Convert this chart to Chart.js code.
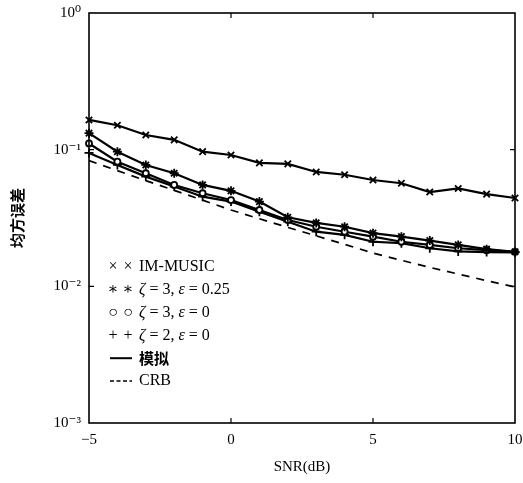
<!DOCTYPE html>
<html>
<head>
<meta charset="utf-8">
<script src="https://cdn.jsdelivr.net/npm/chart.js@4/dist/chart.umd.min.js"></script>
<style>
  html, body { margin: 0; padding: 0; background: #fff; }
  canvas { display: block; }
</style>
</head>
<body>
<canvas id="c" width="523" height="483"></canvas>
<script>
// SNR sweep (dB)
const snr = [-5, -4, -3, -2, -1, 0, 1, 2, 3, 4, 5, 6, 7, 8, 9, 10];

// Mean squared error per method
const imMusic    = [0.165, 0.151, 0.128, 0.118, 0.0967, 0.0914, 0.080, 0.0787, 0.0687, 0.0655, 0.060, 0.0568, 0.049, 0.052, 0.0473, 0.0443];
const zeta3eps25 = [0.132, 0.0966, 0.0773, 0.0672, 0.0552, 0.050, 0.0417, 0.0320, 0.0291, 0.0273, 0.0245, 0.0231, 0.0216, 0.0201, 0.0187, 0.0179];
const zeta3eps0  = [0.111, 0.0817, 0.0672, 0.0552, 0.048, 0.0428, 0.0362, 0.0306, 0.0273, 0.0251, 0.0231, 0.0212, 0.0201, 0.019, 0.0184, 0.0179];
const zeta2eps0  = [0.0946, 0.0773, 0.0635, 0.0537, 0.0453, 0.0417, 0.0352, 0.0297, 0.0251, 0.0238, 0.0212, 0.0207, 0.019, 0.018, 0.0178, 0.0177];
const crb        = [0.0831, 0.0702, 0.0594, 0.0504, 0.0427, 0.0362, 0.0312, 0.0270, 0.0234, 0.0203, 0.0175, 0.0155, 0.01375, 0.0123, 0.0110, 0.0099];

// Axis ticks
const xTickValues = [-5, 0, 5, 10];
const xTickLabels = ['\u22125', '0', '5', '10'];
const yTickValues = [1e-3, 1e-2, 1e-1, 1];
const yTickLabels = ['10\u207B\u00B3', '10\u207B\u00B2', '10\u207B\u00B9', '10\u2070'];

// Axis titles
const xTitle = 'SNR(dB)';
const yTitle = '均方误差';

// Legend rows: two marker glyphs (or a line sample) followed by a label
const legendSymbols = ['×', '∗', '○', '+', 'solid', 'dashed'];
const legendLabels = [
  [{ t: 'IM-MUSIC' }],
  [{ t: 'ζ', i: true }, { t: ' = 3, ' }, { t: 'ε', i: true }, { t: ' = 0.25' }],
  [{ t: 'ζ', i: true }, { t: ' = 3, ' }, { t: 'ε', i: true }, { t: ' = 0' }],
  [{ t: 'ζ', i: true }, { t: ' = 2, ' }, { t: 'ε', i: true }, { t: ' = 0' }],
  [{ t: '模拟', cjk: true }],
  [{ t: 'CRB' }]
];

const SERIF = '"Liberation Serif", "DejaVu Serif", serif';
const CJK = '"Noto Sans CJK SC", sans-serif';

function toPoints(values) {
  return snr.map((x, i) => ({ x: x, y: values[i] }));
}

function series(label, values, style, radius, extra) {
  return Object.assign({
    label: label,
    data: toPoints(values),
    borderColor: '#000',
    backgroundColor: '#000',
    borderWidth: 2.2,
    pointStyle: style,
    pointRadius: radius,
    pointBorderWidth: 1.8,
    pointBorderColor: '#000',
    pointBackgroundColor: '#000',
    tension: 0,
    fill: false,
    clip: false
  }, extra || {});
}

// Box frame with short inward tick marks
const framePlugin = {
  id: 'frame',
  afterDraw(chart) {
    const { ctx, chartArea: a, scales } = chart;
    ctx.save();
    ctx.strokeStyle = '#000';
    ctx.lineWidth = 1.6;
    ctx.strokeRect(a.left, a.top, a.right - a.left, a.bottom - a.top);
    ctx.lineWidth = 1.2;
    const len = 5;
    xTickValues.slice(1, -1).forEach(v => {
      const px = scales.x.getPixelForValue(v);
      ctx.beginPath();
      ctx.moveTo(px, a.bottom); ctx.lineTo(px, a.bottom - len);
      ctx.moveTo(px, a.top); ctx.lineTo(px, a.top + len);
      ctx.stroke();
    });
    yTickValues.slice(1, -1).forEach(v => {
      const py = scales.y.getPixelForValue(v);
      ctx.beginPath();
      ctx.moveTo(a.left, py); ctx.lineTo(a.left + len, py);
      ctx.moveTo(a.right, py); ctx.lineTo(a.right - len, py);
      ctx.stroke();
    });
    ctx.restore();
  }
};

// Legend drawn inside the lower-left corner of the plot
const legendPlugin = {
  id: 'innerLegend',
  afterDraw(chart) {
    const { ctx, chartArea: a } = chart;
    const x0 = a.left + 24;
    const step = 15;
    const textX = a.left + 50;
    const rowH = 22.8;
    const firstY = 267;
    ctx.save();
    ctx.fillStyle = '#000';
    ctx.strokeStyle = '#000';
    ctx.textBaseline = 'middle';
    legendSymbols.forEach((sym, r) => {
      const y = firstY + r * rowH;
      if (sym === 'solid' || sym === 'dashed') {
        ctx.lineWidth = sym === 'solid' ? 2 : 1.4;
        ctx.setLineDash(sym === 'solid' ? [] : [4, 2.5]);
        ctx.beginPath();
        ctx.moveTo(x0 - 3, y);
        ctx.lineTo(x0 + step + 4, y);
        ctx.stroke();
        ctx.setLineDash([]);
      } else {
        ctx.font = '16px ' + SERIF;
        ctx.textAlign = 'center';
        ctx.fillText(sym, x0, y);
        ctx.fillText(sym, x0 + step, y);
      }
      ctx.textAlign = 'left';
      let cx = textX;
      legendLabels[r].forEach(seg => {
        ctx.font = seg.cjk ? 'bold 15px ' + CJK : (seg.i ? 'italic ' : '') + '16px ' + SERIF;
        ctx.fillText(seg.t, cx, y);
        cx += ctx.measureText(seg.t).width;
      });
    });
    ctx.restore();
  }
};

new Chart(document.getElementById('c'), {
  type: 'line',
  data: {
    datasets: [
      series('IM-MUSIC', imMusic, 'crossRot', 4.5),
      series('ζ = 3, ε = 0.25', zeta3eps25, 'star', 4.5),
      series('ζ = 3, ε = 0', zeta3eps0, 'circle', 3, { pointBackgroundColor: '#fff' }),
      series('ζ = 2, ε = 0', zeta2eps0, 'cross', 4.5),
      series('CRB', crb, 'circle', 0, { borderWidth: 1.7, borderDash: [8, 7] })
    ]
  },
  options: {
    responsive: false,
    animation: false,
    devicePixelRatio: 1,
    layout: { padding: { top: 13, right: 8, left: 0, bottom: 0 } },
    plugins: { legend: { display: false }, tooltip: { enabled: false } },
    scales: {
      x: {
        type: 'linear',
        min: -5,
        max: 10,
        afterFit(scale) {
          scale.height = 60;
          scale.paddingLeft = 0;
          scale.paddingRight = 0;
        },
        afterBuildTicks(scale) { scale.ticks = xTickValues.map(v => ({ value: v })); },
        grid: { display: false, drawTicks: false },
        border: { display: false },
        ticks: {
          padding: 8,
          color: '#000',
          font: { family: SERIF, size: 15 },
          maxRotation: 0,
          callback: (v) => xTickLabels[xTickValues.indexOf(v)]
        },
        title: {
          display: true,
          text: xTitle,
          color: '#000',
          font: { family: SERIF, size: 15 },
          padding: { top: 4, bottom: 7 }
        }
      },
      y: {
        type: 'logarithmic',
        min: 1e-3,
        max: 1,
        afterFit(scale) {
          scale.width = 89;
          scale.paddingTop = 0;
          scale.paddingBottom = 0;
        },
        afterBuildTicks(scale) { scale.ticks = yTickValues.map(v => ({ value: v })); },
        grid: { display: false, drawTicks: false },
        border: { display: false },
        ticks: {
          padding: 8,
          color: '#000',
          font: { family: SERIF, size: 15 },
          callback: (v) => yTickLabels[yTickValues.indexOf(v)]
        },
        title: {
          display: true,
          text: yTitle,
          color: '#000',
          font: { family: CJK, size: 15, weight: 'bold' },
          padding: { top: 8 }
        }
      }
    }
  },
  plugins: [framePlugin, legendPlugin]
});
</script>
</body>
</html>
